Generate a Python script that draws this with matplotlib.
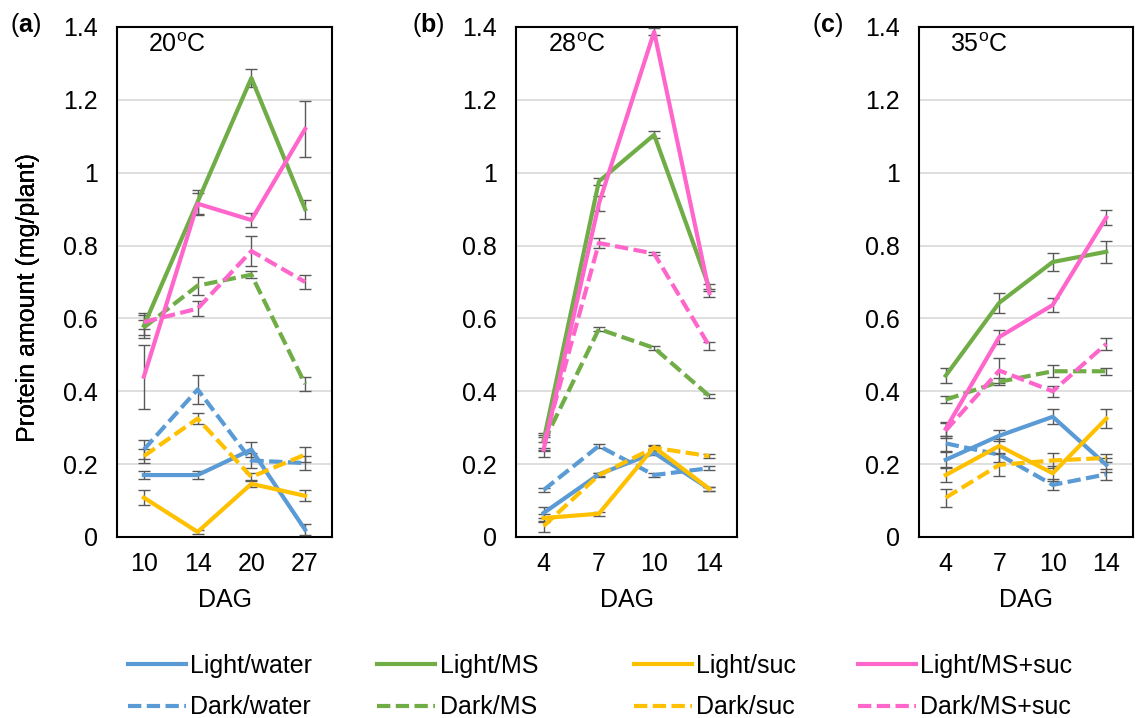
import matplotlib
matplotlib.use("Agg")
import matplotlib.pyplot as plt
from matplotlib.lines import Line2D

plt.rcParams['font.family'] = ['Liberation Sans', 'DejaVu Sans']
plt.rcParams['mathtext.fontset'] = 'custom'
plt.rcParams['mathtext.rm'] = 'Liberation Sans'
plt.rcParams['mathtext.bf'] = 'Liberation Sans:bold'

# series names and styles
series = ['Light/water', 'Dark/water', 'Light/MS', 'Dark/MS',
          'Light/suc', 'Dark/suc', 'Light/MS+suc', 'Dark/MS+suc']
colors = {'water': '#5B9BD5', 'MS': '#70AD47', 'suc': '#FFC000', 'MS+suc': '#FF66CC'}

# (a) 20oC
days_a = ['10', '14', '20', '27']
mean_a = {
    'Light/water':  [0.17, 0.17, 0.24, 0.02],
    'Dark/water':   [0.24, 0.405, 0.21, 0.203],
    'Light/MS':     [0.58, 0.92, 1.26, 0.90],
    'Dark/MS':      [0.575, 0.69, 0.72, 0.42],
    'Light/suc':    [0.108, 0.014, 0.146, 0.113],
    'Dark/suc':     [0.222, 0.325, 0.165, 0.226],
    'Light/MS+suc': [0.44, 0.915, 0.87, 1.12],
    'Dark/MS+suc':  [0.59, 0.627, 0.785, 0.70],
}
err_a = {
    'Light/water':  [0.01, 0.01, 0.02, 0.015],
    'Dark/water':   [0.025, 0.04, 0.02, 0.02],
    'Light/MS':     [0.035, 0.033, 0.024, 0.026],
    'Dark/MS':      [0.02, 0.025, 0.01, 0.02],
    'Light/suc':    [0.02, 0.005, 0.01, 0.015],
    'Dark/suc':     [0.02, 0.015, 0.01, 0.02],
    'Light/MS+suc': [0.088, 0.03, 0.02, 0.077],
    'Dark/MS+suc':  [0.02, 0.02, 0.04, 0.02],
}

# (b) 28oC
days_b = ['4', '7', '10', '14']
mean_b = {
    'Light/water':  [0.066, 0.172, 0.231, 0.132],
    'Dark/water':   [0.129, 0.25, 0.17, 0.189],
    'Light/MS':     [0.265, 0.976, 1.104, 0.684],
    'Dark/MS':      [0.26, 0.571, 0.519, 0.387],
    'Light/suc':    [0.052, 0.064, 0.247, 0.132],
    'Dark/suc':     [0.03, 0.17, 0.245, 0.222],
    'Light/MS+suc': [0.24, 0.915, 1.387, 0.67],
    'Dark/MS+suc':  [0.255, 0.807, 0.778, 0.524],
}
err_b = {
    'Light/water':  [0.015, 0.005, 0.005, 0.005],
    'Dark/water':   [0.005, 0.005, 0.005, 0.005],
    'Light/MS':     [0.02, 0.01, 0.01, 0.01],
    'Dark/MS':      [0.02, 0.005, 0.005, 0.005],
    'Light/suc':    [0.01, 0.005, 0.005, 0.005],
    'Dark/suc':     [0.015, 0.005, 0.005, 0.005],
    'Light/MS+suc': [0.02, 0.02, 0.01, 0.01],
    'Dark/MS+suc':  [0.02, 0.015, 0.005, 0.01],
}

# (c) 35oC
days_c = ['4', '7', '10', '14']
mean_c = {
    'Light/water':  [0.212, 0.278, 0.33, 0.198],
    'Dark/water':   [0.257, 0.226, 0.143, 0.172],
    'Light/MS':     [0.443, 0.643, 0.755, 0.783],
    'Dark/MS':      [0.377, 0.426, 0.455, 0.455],
    'Light/suc':    [0.17, 0.25, 0.175, 0.325],
    'Dark/suc':     [0.108, 0.198, 0.21, 0.217],
    'Light/MS+suc': [0.297, 0.549, 0.637, 0.877],
    'Dark/MS+suc':  [0.292, 0.457, 0.40, 0.53],
}
err_c = {
    'Light/water':  [0.02, 0.015, 0.02, 0.02],
    'Dark/water':   [0.02, 0.02, 0.015, 0.015],
    'Light/MS':     [0.02, 0.027, 0.025, 0.03],
    'Dark/MS':      [0.01, 0.01, 0.017, 0.01],
    'Light/suc':    [0.02, 0.02, 0.02, 0.025],
    'Dark/suc':     [0.025, 0.03, 0.02, 0.01],
    'Light/MS+suc': [0.02, 0.02, 0.02, 0.02],
    'Dark/MS+suc':  [0.02, 0.035, 0.015, 0.017],
}

yticks = [0, 0.2, 0.4, 0.6, 0.8, 1.0, 1.2, 1.4]
ytick_labels = ['0', '0.2', '0.4', '0.6', '0.8', '1', '1.2', '1.4']

LW = 3.0
DASH = (3.2, 1.3)


def style(name):
    light, medium = name.split('/')
    return colors[medium], light == 'Dark'


fig = plt.figure(figsize=(11.41, 7.18), dpi=100)

panels = [
    ('a', '20$^{\\mathrm{o}}$C', days_a, mean_a, err_a, 117, 215, 10),
    ('b', '28$^{\\mathrm{o}}$C', days_b, mean_b, err_b, 516, 221, 412),
    ('c', '35$^{\\mathrm{o}}$C', days_c, mean_c, err_c, 919, 214, 812),
]

W, H = 1141, 718
for letter, temp, days, mean, err, left, width, lab_x in panels:
    ax = fig.add_axes([left / W, (H - 537) / H, width / W, 510 / H])
    x = list(range(len(days)))
    for name in series:
        c, dashed = style(name)
        eb = ax.errorbar(x, mean[name], yerr=err[name], color=c, lw=LW,
                         ecolor='#595959', elinewidth=1.0, capsize=4,
                         capthick=1.0, zorder=3)
        if dashed:
            eb[0].set_dashes(DASH)
    ax.set_xlim(-0.5, len(days) - 0.5)
    ax.set_ylim(0, 1.4)
    ax.set_xticks(x)
    ax.set_xticklabels(days)
    ax.set_yticks(yticks)
    ax.set_yticklabels(ytick_labels)
    ax.tick_params(length=0, labelsize=18)
    ax.tick_params(axis='y', pad=14)
    ax.tick_params(axis='x', pad=11)
    ax.grid(axis='y', color='#D9D9D9', lw=1.2, zorder=0)
    ax.set_axisbelow(True)
    for sp in ax.spines.values():
        sp.set_linewidth(1.5)
        sp.set_color('black')
    ax.set_ylabel('Protein amount (mg/plant)', fontsize=18)
    ax.yaxis.set_label_coords((40 - left) / width, 0.47)
    ax.set_xlabel('DAG', fontsize=18)
    ax.xaxis.set_label_coords(0.5, -0.1)
    ax.text(0.145, 0.965, temp, transform=ax.transAxes, fontsize=18,
            ha='left', va='center')
    fig.text(lab_x / W, 1 - 25 / H, '($\\mathbf{%s}$)' % letter, fontsize=18,
             ha='left', va='center')

# legend: four columns, light row above dark row
col_x = [128, 377, 634, 858]
for i, medium in enumerate(['water', 'MS', 'suc', 'MS+suc']):
    handles = []
    for light in ['Light', 'Dark']:
        c, dashed = style(light + '/' + medium)
        h = Line2D([], [], color=c, lw=LW)
        if dashed:
            h.set_dashes(DASH)
        handles.append(h)
    fig.legend(handles, ['Light/' + medium, 'Dark/' + medium],
               loc='upper left', bbox_to_anchor=(col_x[i] / W, 1 - 654 / H),
               frameon=False, fontsize=18, handlelength=2.3,
               handletextpad=0.2, borderpad=0, borderaxespad=0,
               labelspacing=0.7)

fig.savefig('out.png', dpi=100)
